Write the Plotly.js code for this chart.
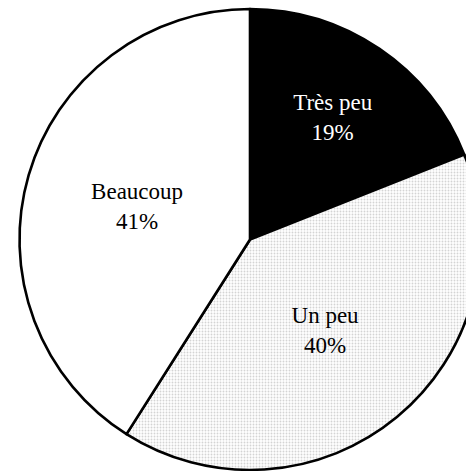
<!DOCTYPE html>
<html>
<head>
<meta charset="utf-8">
<script src="https://cdn.plot.ly/plotly-3.0.1.min.js"></script>
<style>
html,body{margin:0;padding:0;overflow:hidden;background:#fff;}
#chart{width:500px;height:480px;}
</style>
</head>
<body>
<div id="chart"></div>
<script>
const categories = ["Très peu", "Un peu", "Beaucoup"];
const values = [19, 40, 41];
const textColors = ["#ffffff", "#000000", "#000000"];

const serif = "Liberation Serif";

const trace = {
  type: "pie",
  labels: categories,
  values: values,
  sort: false,
  direction: "clockwise",
  rotation: 0,
  textinfo: "label+percent",
  textposition: "inside",
  insidetextorientation: "horizontal",
  hoverinfo: "none",
  textfont: {family: serif, size: 23, color: textColors},
  insidetextfont: {family: serif, size: 23, color: textColors},
  marker: {
    colors: ["#000000", "#ffffff", "#ffffff"],
    line: {color: "#000000", width: 2.6},
    pattern: {
      shape: ["", ".", ""],
      fgcolor: "#d4d4d4",
      bgcolor: "#ffffff",
      size: 3,
      solidity: 0.3
    }
  },
  domain: {x: [0, 1], y: [10/480, 471/480]}
};

Plotly.newPlot("chart", [trace], {
  width: 500,
  height: 480,
  margin: {l: 0, r: 0, t: 0, b: 0},
  showlegend: false,
  paper_bgcolor: "#ffffff",
  font: {family: serif}
}, {staticPlot: true, displayModeBar: false});
</script>
</body>
</html>
